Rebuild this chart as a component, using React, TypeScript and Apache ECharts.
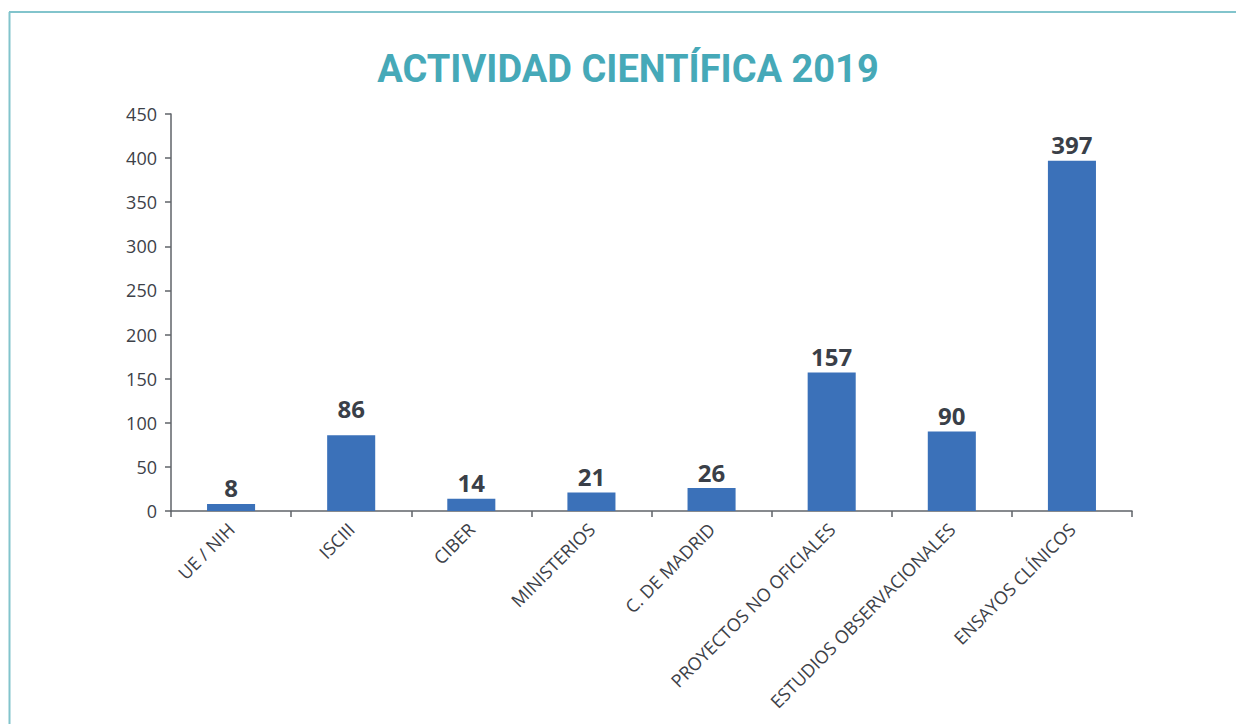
import React, { useEffect, useRef } from "react";
import * as echarts from "echarts";

const categories = [
  "UE / NIH",
  "ISCIII",
  "CIBER",
  "MINISTERIOS",
  "C. DE MADRID",
  "PROYECTOS NO OFICIALES",
  "ESTUDIOS OBSERVACIONALES",
  "ENSAYOS CLÍNICOS",
];
const values = [8, 86, 14, 21, 26, 157, 90, 397];
const titleText = "ACTIVIDAD CIENTÍFICA 2019";

export default function App() {
  const ref = useRef<HTMLDivElement>(null);
  useEffect(() => {
    if (!ref.current) return;
    const chart = echarts.init(ref.current, null, { renderer: "svg" });
    const font = "'Open Sans', 'Noto Sans', sans-serif";
    const seriesData = values.map((v, i) =>
      i === 1 ? { value: v, label: { distance: 15 } } : v
    );
    chart.setOption({
      animation: false,
      backgroundColor: "#ffffff",
      textStyle: { fontFamily: font },
      graphic: [
        {
          type: "line",
          shape: { x1: 9.5, y1: 12, x2: 9.5, y2: 724 },
          style: { stroke: "#82c4cc", lineWidth: 2 },
          silent: true,
        },
        {
          type: "line",
          shape: { x1: 9, y1: 12, x2: 1236, y2: 12 },
          style: { stroke: "#82c4cc", lineWidth: 2 },
          silent: true,
        },
        {
          type: "text",
          x: 628,
          y: 69,
          style: {
            text: titleText,
            fill: "#46a9b8",
            font: "bold 38px 'Roboto', 'Open Sans', sans-serif",
            textAlign: "center",
            textVerticalAlign: "middle",
          },
          silent: true,
        },
      ],
      grid: { left: 171, right: 104, top: 114, bottom: 213, containLabel: false },
      xAxis: {
        type: "category",
        data: categories,
        axisLine: { lineStyle: { color: "#5f6368", width: 1.5 } },
        axisTick: { show: true, length: 6, lineStyle: { color: "#5f6368", width: 1.5 } },
        axisLabel: {
          rotate: 45,
          interval: 0,
          margin: 15,
          color: "#3d4148",
          fontSize: 18,
          fontFamily: font,
        },
      },
      yAxis: {
        type: "value",
        min: 0,
        max: 450,
        interval: 50,
        splitLine: { show: false },
        axisLine: { show: true, lineStyle: { color: "#5f6368", width: 1.5 } },
        axisTick: { show: true, length: 6, lineStyle: { color: "#5f6368", width: 1.5 } },
        axisLabel: { color: "#3d4148", fontSize: 18, margin: 14, fontFamily: font },
      },
      series: [
        {
          type: "bar",
          data: seriesData,
          barWidth: "40%",
          itemStyle: { color: "#3b71b9" },
          label: {
            show: true,
            position: "top",
            distance: 4,
            color: "#3a3f48",
            fontSize: 24,
            fontWeight: "bold",
            fontFamily: font,
          },
        },
      ],
    });
    return () => chart.dispose();
  }, []);
  return (
    <div
      ref={ref}
      style={{ position: "fixed", left: 0, top: 0, width: 1236, height: 724 }}
    />
  );
}
